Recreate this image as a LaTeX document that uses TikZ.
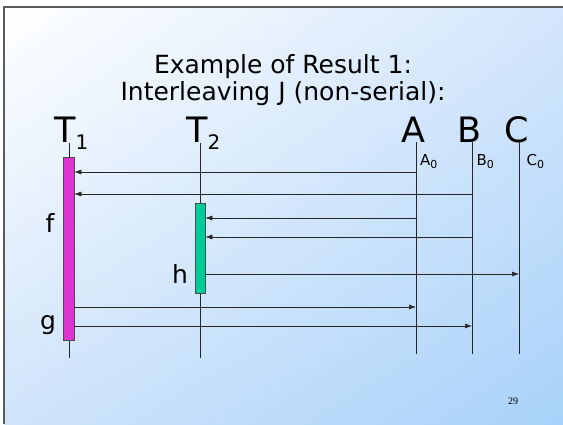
\documentclass[tikz,border=0pt]{standalone}
\usepackage{fontspec}
\setmainfont{DejaVu Sans}
\newfontfamily\pagenumfont{Liberation Serif}
\usetikzlibrary{arrows.meta,shadings}
\definecolor{bgtl}{RGB}{255,255,255}
\definecolor{bgtr}{RGB}{212,230,251}
\definecolor{bgbl}{RGB}{208,228,250}
\definecolor{bgbr}{RGB}{168,210,250}
\definecolor{framegray}{RGB}{90,90,95}
\definecolor{magentabar}{RGB}{220,52,208}
\definecolor{greenbar}{RGB}{0,204,153}
\begin{document}
\begin{tikzpicture}[x=1pt,y=-1pt,
  lifeline/.style={draw=black!85, line width=0.6pt},
  msg/.style={draw=black!85, line width=0.6pt, -{Latex[length=7pt,width=5pt]}},
  actbar/.style={draw=black!70, line width=0.5pt, inner sep=0pt, anchor=north},
  titletext/.style={font=\fontsize{25}{25}\selectfont, inner sep=0pt, anchor=base},
  bigletter/.style={font=\fontsize{35}{35}\selectfont, inner sep=0pt, anchor=base},
  initlabel/.style={inner sep=0pt, anchor=base west},
  oplabel/.style={font=\fontsize{25}{25}\selectfont, inner sep=0pt, anchor=base}
]
\useasboundingbox (0,0) rectangle (563,424);
% background
\shade[upper left=bgtl, upper right=bgtr, lower left=bgbl, lower right=bgbr] (4,7) rectangle (563,424);
\draw[framegray, line width=1.5pt] (4,424) -- (4,7) -- (563,7);

% title
\node[titletext] (title1) at (283,73) {Example of Result 1:};
\node[titletext] (title2) at (283,100) {Interleaving J (non-serial):};

% lifeline heads
\node[bigletter, anchor=base west] (T1) at (54,142) {T\raisebox{-7pt}{\fontsize{20}{20}\selectfont 1}};
\node[bigletter, anchor=base west] (T2) at (186,142) {T\raisebox{-7pt}{\fontsize{20}{20}\selectfont 2}};
\node[bigletter] (A) at (413,142) {A};
\node[bigletter] (B) at (469.5,142) {B};
\node[bigletter] (C) at (517,142) {C};

% lifelines
\coordinate (t1top) at (69,143);  \coordinate (t1bot) at (69,358);
\coordinate (t2top) at (200,143); \coordinate (t2bot) at (200,358);
\coordinate (atop) at (416,142);  \coordinate (abot) at (416,354);
\coordinate (btop) at (472,142);  \coordinate (bbot) at (472,354);
\coordinate (ctop) at (519,142);  \coordinate (cbot) at (519,354);
\draw[lifeline] (t1top) -- (t1bot);
\draw[lifeline] (t2top) -- (t2bot);
\draw[lifeline] (atop) -- (abot);
\draw[lifeline] (btop) -- (bbot);
\draw[lifeline] (ctop) -- (cbot);

% initial value labels
\node[initlabel] (A0) at (420,165) {\fontsize{15}{15}\selectfont A\raisebox{-3pt}{\fontsize{11}{11}\selectfont 0}};
\node[initlabel] (B0) at (476.5,165) {\fontsize{15}{15}\selectfont B\raisebox{-3pt}{\fontsize{11}{11}\selectfont 0}};
\node[initlabel] (C0) at (526.5,165) {\fontsize{15}{15}\selectfont C\raisebox{-3pt}{\fontsize{11}{11}\selectfont 0}};

% activation bars
\node[actbar, fill=magentabar, minimum width=10.5pt, minimum height=183pt] (t1bar) at (68.8,157) {};
\node[actbar, fill=greenbar, minimum width=9.5pt, minimum height=90pt] (t2bar) at (200.3,203) {};

% messages
\coordinate (a1) at (416,172);
\coordinate (b1) at (472,194);
\coordinate (a2) at (416,218);
\coordinate (b2) at (472,237);
\coordinate (c1) at (519,274);
\coordinate (a3) at (416,307);
\coordinate (b3) at (472,326);
\draw[msg] (a1) -- (t1bar.east |- a1);
\draw[msg] (b1) -- (t1bar.east |- b1);
\draw[msg] (a2) -- (t2bar.east |- a2);
\draw[msg] (b2) -- (t2bar.east |- b2);
\draw[msg] (t2bar.east |- c1) -- (c1);
\draw[msg] (t1bar.east |- a3) -- (a3);
\draw[msg] (t1bar.east |- b3) -- (b3);

% operation labels
\node[oplabel] (f) at (50,232) {f};
\node[oplabel] (h) at (180,283) {h};
\node[oplabel] (g) at (48,329) {g};

% page number
\node[inner sep=0pt, font=\pagenumfont\fontsize{10}{10}\selectfont] (pnum) at (513,401) {29};
\end{tikzpicture}
\end{document}
